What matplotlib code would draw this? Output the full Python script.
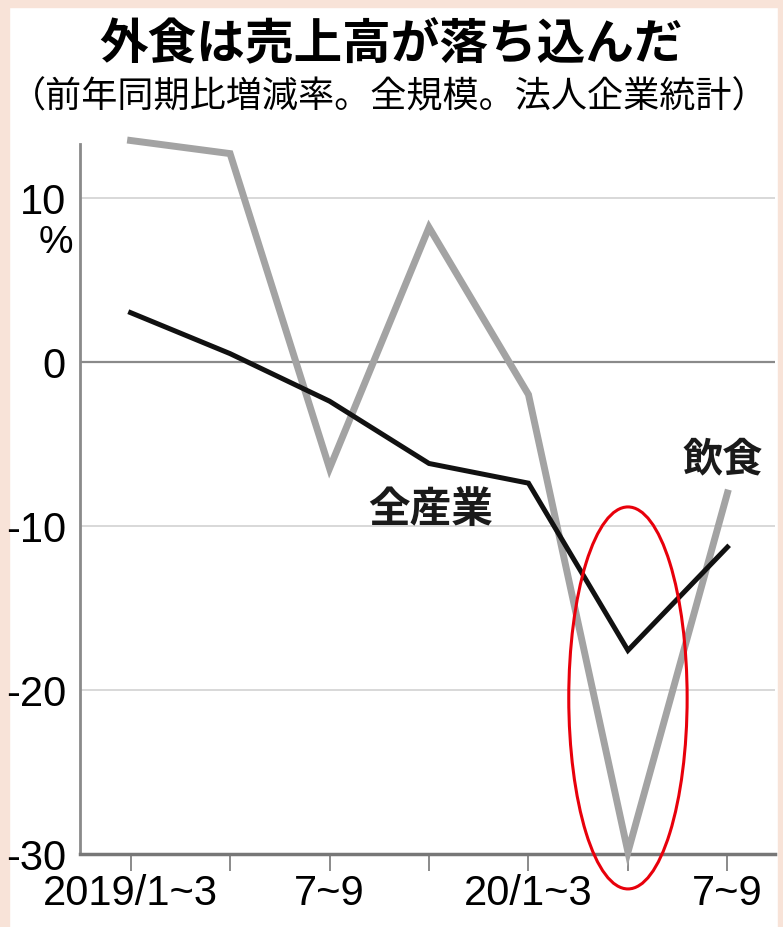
import matplotlib
matplotlib.use("Agg")
import matplotlib.pyplot as plt
from matplotlib.patches import Ellipse, Rectangle

# quarters from 2019/1~3 to 20/7~9
quarters = ["2019/1~3", "4~6", "7~9", "10~12", "20/1~3", "4~6", "7~9"]
tick_labels = ["2019/1~3", "", "7~9", "", "20/1~3", "", "7~9"]
restaurants = [13.5, 12.7, -6.5, 8.2, -2.0, -29.9, -8.0]  # 飲食
all_industry = [3.0, 0.5, -2.4, -6.2, -7.4, -17.6, -11.3]  # 全産業
y_ticks = [10, 0, -10, -20, -30]

cjk = ["Noto Sans CJK JP", "DejaVu Sans"]
num_font = ["Liberation Sans Narrow", "Liberation Sans", "DejaVu Sans"]

fig = plt.figure(figsize=(7.83, 9.28), dpi=100, facecolor="white")
ax = fig.add_axes([0.102, 0.079, 0.888, 0.765])

x = list(range(len(quarters)))

# grid lines
for v in y_ticks:
    if v == 0:
        ax.axhline(v, color="#8a8a8a", lw=1.6, zorder=1)
    elif v > -30:
        ax.axhline(v, color="#d2d2d2", lw=1.2, zorder=1)

ax.plot(x, restaurants, color="#a3a3a3", lw=5.0, solid_joinstyle="miter",
        zorder=3, clip_on=False)
ax.plot(x, all_industry, color="#111111", lw=3.6, solid_joinstyle="miter",
        zorder=4, clip_on=False)

ax.set_xlim(-0.51, 6.48)
ax.set_ylim(-30, 13.3)

for side in ["top", "right"]:
    ax.spines[side].set_visible(False)
ax.spines["left"].set_color("#8a8a8a")
ax.spines["left"].set_linewidth(2)
ax.spines["bottom"].set_color("#777777")
ax.spines["bottom"].set_linewidth(2.5)

ax.set_xticks(x)
ax.set_xticklabels(tick_labels, fontfamily=num_font, fontsize=30)
ax.set_yticks(y_ticks)
ax.set_yticklabels([str(v) for v in y_ticks], fontfamily=num_font, fontsize=30)
ax.tick_params(axis="x", length=12, width=1.2, color="#777777", pad=2)
ax.tick_params(axis="y", length=0, pad=10)

ax.text(-0.58, 7.3, "%", fontfamily=num_font, fontsize=28, ha="right", va="center")

# series labels
ax.text(3.02, -9.0, "全産業", fontfamily=cjk, fontsize=30, fontweight="bold",
        ha="center", va="center", color="#1a1a1a")
ax.text(5.95, -5.9, "飲食", fontfamily=cjk, fontsize=29, fontweight="bold",
        ha="center", va="center", color="#1a1a1a")

# red circle highlighting the 20/4~6 drop
ax.add_patch(Ellipse((5, -20.5), 1.19, 23.3, fill=False, edgecolor="#e8000b",
                     lw=2.2, zorder=6, clip_on=False))

fig.text(0.5, 0.952, "外食は売上高が落ち込んだ", fontfamily=cjk, fontsize=35,
         fontweight="bold", ha="center", va="center")
fig.text(0.497, 0.895, "（前年同期比増減率。全規模。法人企業統計）", fontfamily=cjk,
         fontsize=26, ha="center", va="center")

# peach border of the scan
edge = "#f8e3d8"
fig.add_artist(Rectangle((0, 0), 0.011, 1, transform=fig.transFigure, color=edge, zorder=0))
fig.add_artist(Rectangle((0, 0.991), 1, 0.009, transform=fig.transFigure, color=edge, zorder=0))
fig.add_artist(Rectangle((0.993, 0), 0.007, 1, transform=fig.transFigure, color=edge, zorder=0))

fig.savefig("out.png", dpi=100, facecolor="white")
